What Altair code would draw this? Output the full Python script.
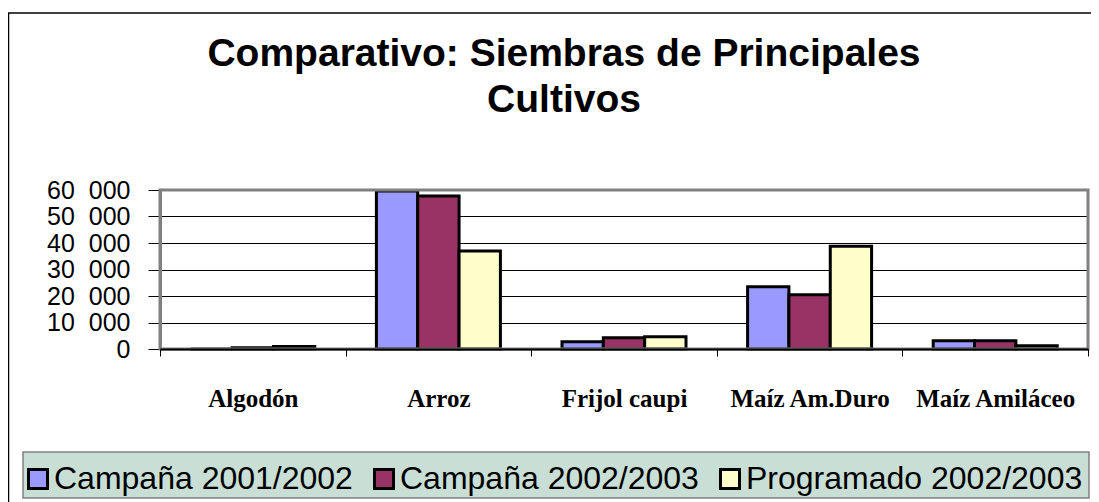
import altair as alt
import pandas as pd

categories = ["Algodón", "Arroz", "Frijol caupi", "Maíz Am.Duro", "Maíz Amiláceo"]
series = ["Campaña 2001/2002", "Campaña 2002/2003", "Programado 2002/2003"]
colors = ["#9999FF", "#993366", "#FFFFCC"]

campana_2001 = [0, 59600, 2700, 23500, 3100]
campana_2002 = [500, 57700, 4200, 20500, 3100]
programado_2002 = [900, 37000, 4600, 38800, 1200]

y_ticks = [0, 10000, 20000, 30000, 40000, 50000, 60000]

rows = []
for s, vals in zip(series, [campana_2001, campana_2002, programado_2002]):
    for c, v in zip(categories, vals):
        rows.append({"cultivo": c, "serie": s, "valor": v})
df = pd.DataFrame(rows)

W, H = 928, 159
one = pd.DataFrame({"a": [0]})

frame_top = alt.Chart(one).mark_rule(color="black", strokeWidth=1.5).encode(
    x=alt.value(-152), x2=alt.value(1100), y=alt.value(-177), y2=alt.value(-177)
)
frame_left = alt.Chart(one).mark_rule(color="black", strokeWidth=1.5).encode(
    x=alt.value(-151.5), x2=alt.value(-151.5), y=alt.value(-177), y2=alt.value(320)
)

legend_box = alt.Chart(one).mark_rect(
    fill="#C9DFD6", stroke="#808080", strokeWidth=1.5
).encode(
    x=alt.value(-137), x2=alt.value(929), y=alt.value(262), y2=alt.value(308)
)

bars = alt.Chart(df).mark_bar(stroke="black", strokeWidth=3).encode(
    x=alt.X(
        "cultivo:N",
        sort=categories,
        title=None,
        scale=alt.Scale(paddingInner=0, paddingOuter=0),
        axis=alt.Axis(
            tickBand="extent",
            domainColor="black",
            domainWidth=2,
            tickColor="black",
            tickSize=7,
            tickWidth=1,
            labelFont="Liberation Serif",
            labelFontWeight="bold",
            labelFontSize=25,
            labelColor="black",
            labelPadding=30,
            labelAngle=0,
            labelLimit=300,
            grid=False,
            zindex=2,
        ),
    ),
    xOffset=alt.XOffset(
        "serie:N", sort=series, scale=alt.Scale(paddingOuter=0.745, paddingInner=0)
    ),
    y=alt.Y(
        "valor:Q",
        title=None,
        scale=alt.Scale(domain=[0, 60000], nice=False),
        axis=alt.Axis(
            values=y_ticks,
            labelExpr="replace(format(datum.value, ','), ',', '\u00a0\u00a0')",
            labelOverlap=False,
            labelFont="Liberation Sans",
            labelFontSize=25,
            labelColor="black",
            labelPadding=18,
            tickSize=12,
            tickColor="black",
            tickWidth=1,
            domainColor="#808080",
            domainWidth=3,
            grid=True,
            gridColor="black",
            gridWidth=1,
            gridOpacity=1,
        ),
    ),
    color=alt.Color(
        "serie:N",
        sort=series,
        scale=alt.Scale(domain=series, range=colors),
        legend=alt.Legend(
            title=None,
            orient="none",
            legendX=-138,
            legendY=273,
            direction="horizontal",
            padding=0,
            symbolType="square",
            symbolSize=361,
            symbolStrokeColor="black",
            symbolStrokeWidth=3,
            symbolOpacity=1,
            labelFont="Liberation Sans",
            labelFontSize=32,
            labelColor="black",
            labelOffset=0,
            labelLimit=500,
            columnPadding=15,
        ),
    ),
)

view_border = alt.Chart(one).mark_rect(
    fill="transparent", stroke="#808080", strokeWidth=3
).encode(
    x=alt.value(0), x2=alt.value(W), y=alt.value(0), y2=alt.value(H)
)

chart = alt.layer(frame_top, frame_left, legend_box, bars, view_border).properties(
    width=W,
    height=H,
    autosize=alt.AutoSizeParams(type="none"),
    padding={"left": 152, "top": 182, "right": 3, "bottom": 153},
    title=alt.TitleParams(
        text=["Comparativo: Siembras de Principales", "Cultivos"],
        font="Liberation Sans",
        fontWeight="bold",
        fontSize=39,
        lineHeight=46,
        color="black",
        anchor="middle",
        dx=-60,
        dy=108,
        offset=0,
    ),
).configure_view(
    fill="#C0C0C0", stroke="#808080", strokeWidth=3
).configure(background="white")

chart.save("out.html", embed_options={"renderer": "svg", "actions": False})
